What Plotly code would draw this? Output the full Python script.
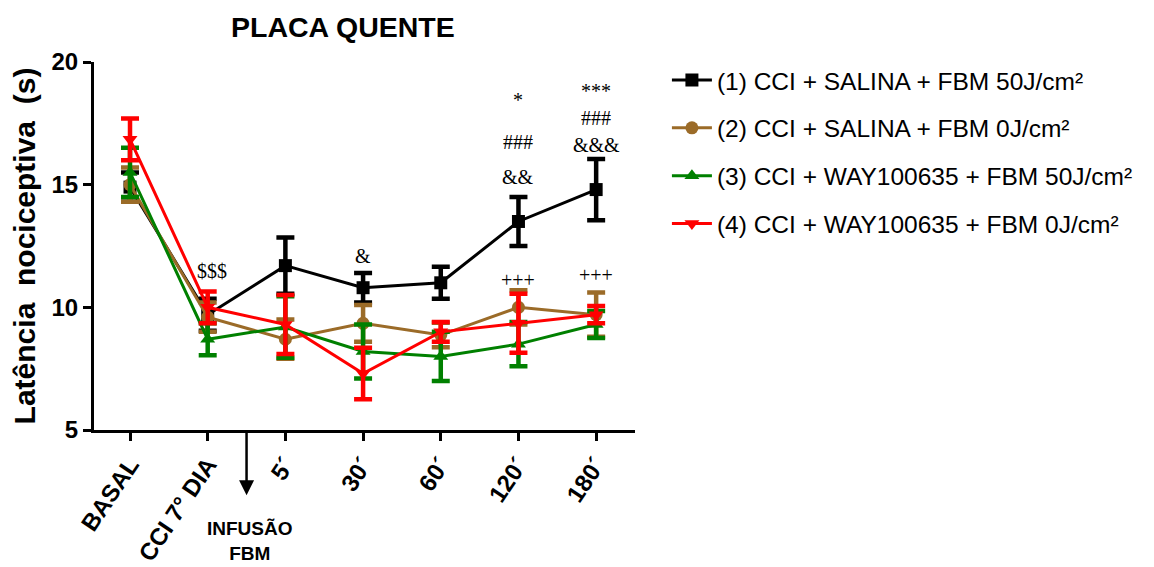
import plotly.graph_objects as go

categories = ["BASAL", "CCI 7° DIA", "5´", "30´", "60´", "120´", "180´"]
x_pos = [0, 1, 2, 3, 4, 5, 6]

series_names = [
    "(1) CCI + SALINA + FBM 50J/cm²",
    "(2) CCI + SALINA + FBM 0J/cm²",
    "(3) CCI + WAY100635 + FBM 50J/cm²",
    "(4) CCI + WAY100635 + FBM 0J/cm²",
]
s1_mean = [14.9, 9.7, 11.7, 10.8, 11.0, 13.5, 14.8]
s1_err = [0.6, 0.65, 1.15, 0.6, 0.65, 1.0, 1.25]
s2_mean = [15.0, 9.6, 8.7, 9.35, 8.87, 10.0, 9.7]
s2_err = [0.7, 0.6, 0.8, 0.75, 0.5, 0.7, 0.9]
s3_mean = [15.5, 8.7, 9.2, 8.2, 8.0, 8.5, 9.3]
s3_err = [1.0, 0.65, 1.25, 1.1, 1.0, 0.9, 0.55]
s4_mean = [16.85, 10.0, 9.3, 7.3, 9.0, 9.35, 9.7]
s4_err = [0.85, 0.65, 1.2, 1.05, 0.4, 1.2, 0.35]

colors = ["#000000", "#9B6B28", "#008000", "#FF0000"]
symbols = ["square", "circle", "triangle-up", "triangle-down"]

# significance annotations: (x position, y value, text)
sig_x = [1.05, 3, 5, 5, 5, 5, 6, 6, 6, 6]
sig_y = [11.5, 12.1, 18.45, 16.75, 15.3, 11.1, 18.8, 17.7, 16.6, 11.3]
sig_text = ["$$$", "&", "*", "###", "&&", "+++", "***", "###", "&&&", "+++"]

means = [s1_mean, s2_mean, s3_mean, s4_mean]
errs = [s1_err, s2_err, s3_err, s4_err]

FONT = "Liberation Sans"

fig = go.Figure()
for i in range(4):
    fig.add_trace(go.Scatter(
        x=x_pos, y=means[i], name=series_names[i], mode="lines+markers",
        line=dict(color=colors[i], width=3),
        marker=dict(symbol=symbols[i], size=13, color=colors[i]),
        error_y=dict(type="data", array=errs[i], visible=True,
                     color=colors[i], thickness=4.5, width=9),
        legendgroup=str(i), cliponaxis=False,
    ))

for xs, ys, t in zip(sig_x, sig_y, sig_text):
    fig.add_annotation(x=xs, y=ys, xref="x", yref="y", text=t, showarrow=False,
                       font=dict(family="Liberation Serif", size=20, color="black"))

# title as annotation
fig.add_annotation(x=(335 - 86) / 541, y=1.142, xref="paper", yref="paper",
                   xanchor="center", yanchor="top", showarrow=False,
                   text="<b>PLACA QUENTE</b>", borderpad=0,
                   font=dict(size=28.5, family=FONT, color="black"))

# arrow for infusion
fig.add_annotation(x=1.5, y=-0.177, xref="x", yref="paper", ax=0, ay=-65,
                   text="", showarrow=True, arrowhead=2, arrowsize=1.2,
                   arrowwidth=2.5, arrowcolor="black")
fig.add_annotation(x=1.55, y=-0.37, xref="x", yref="paper",
                   text="<b>INFUSÃO<br>FBM</b>", showarrow=False,
                   font=dict(family=FONT, size=19, color="black"))

fig.update_layout(
    width=1146, height=559,
    paper_bgcolor="white", plot_bgcolor="white",
    margin=dict(l=86, r=519, t=54, b=137, autoexpand=False),
    font=dict(family=FONT, color="black"),
    showlegend=True,
    legend=dict(x=1.059, xanchor="left", y=1.012, yanchor="top",
                font=dict(size=24.5, family=FONT, color="black"),
                tracegroupgap=13, itemwidth=40, bgcolor="rgba(0,0,0,0)"),
    xaxis=dict(range=[-0.4635, 6.5], tickvals=x_pos, ticktext=["<b>%s</b>" % c for c in categories],
               tickangle=-56, showgrid=False, zeroline=False,
               showline=True, linecolor="black", linewidth=3,
               ticks="outside", ticklen=8, tickwidth=3, tickcolor="black",
               tickfont=dict(size=24, family=FONT, color="black")),
    yaxis=dict(range=[5, 20], tickvals=[5, 10, 15, 20],
               ticktext=["<b>5</b>", "<b>10</b>", "<b>15</b>", "<b>20</b>"],
               showgrid=False, zeroline=False,
               showline=True, linecolor="black", linewidth=3,
               ticks="outside", ticklen=8, tickwidth=3, tickcolor="black",
               tickfont=dict(size=24, family=FONT, color="black"),
               title=dict(text="<b>Latência  nociceptiva  (s)</b>", standoff=10,
                          font=dict(size=30, family=FONT, color="black"))),
)

fig.write_html("out.html")
